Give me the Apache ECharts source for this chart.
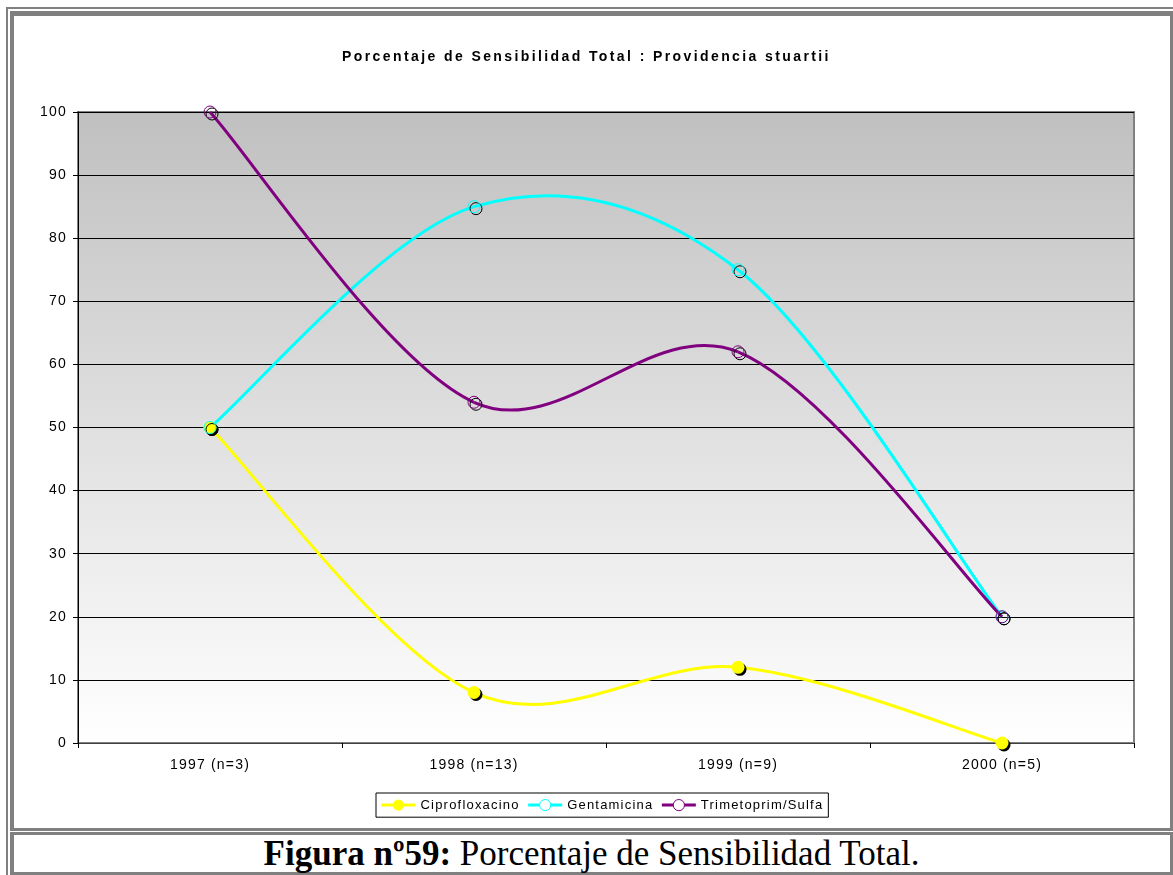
<!DOCTYPE html>
<html>
<head>
<meta charset="utf-8">
<script src="https://cdn.jsdelivr.net/npm/echarts@6/dist/echarts.min.js"></script>
<style>
  html, body { margin:0; padding:0; background:#fff; width:1173px; height:875px; overflow:hidden; }
  .frame { position:absolute; box-sizing:border-box; border-color:#808080; border-style:solid; }
  #outer { left:6px; top:7px; width:1167px; height:868px; border-width:2px 0 0 2px; }
  #chartbox { left:10px; top:11px; width:1163px; height:820px; border-width:5px 3px 3px 4px; }
  #capbox { left:10px; top:832px; width:1163px; height:43px; border-width:3px 3px 3px 4px; }
  #caption { position:absolute; left:10px; top:835px; width:1163px; height:37px; line-height:37px; text-align:center;
    font-family:"Liberation Serif","Times New Roman",serif; font-size:35px; color:#000; white-space:nowrap; }
  #chart { position:absolute; left:0; top:0; width:1173px; height:875px; }
</style>
</head>
<body>
<div class="frame" id="outer"></div>
<div class="frame" id="chartbox"></div>
<div class="frame" id="capbox"></div>
<div id="caption"><b>Figura nº59:</b> Porcentaje de Sensibilidad Total.</div>
<div id="chart"></div>
<script>
// ---- data ----
var titleText = 'Porcentaje de Sensibilidad Total : Providencia stuartii';
var categories = ['1997 (n=3)', '1998 (n=13)', '1999 (n=9)', '2000 (n=5)'];
var seriesNames = ['Ciprofloxacino', 'Gentamicina', 'Trimetoprim/Sulfa'];
var ciprofloxacino = [50, 8, 12, 0];
var gentamicina = [50, 85, 75, 20];
var trimetoprimSulfa = [100, 54, 62, 20];
var yTicks = [0, 10, 20, 30, 40, 50, 60, 70, 80, 90, 100];

// letter spacing to mimic Excel's spread-out text rendering
(function () {
  var P = window.CanvasRenderingContext2D && CanvasRenderingContext2D.prototype;
  if (!P || !('letterSpacing' in P)) return;
  var ft = P.fillText, mt = P.measureText;
  function sp(ctx) { return /bold/.test(ctx.font) ? '2.4px' : '1.2px'; }
  P.fillText = function (t, x, y, w) {
    this.letterSpacing = sp(this);
    return w === undefined ? ft.call(this, t, x, y) : ft.call(this, t, x, y, w);
  };
  P.measureText = function (t) {
    this.letterSpacing = sp(this);
    return mt.call(this, t);
  };
})();

var chart = echarts.init(document.getElementById('chart'), null, { renderer: 'canvas' });
var font = 'Arial, "Liberation Sans", sans-serif';
var colors = ['#ffff00', '#00ffff', '#800080'];
var allData = [ciprofloxacino, gentamicina, trimetoprimSulfa];

// smooth curve (Excel-like Catmull-Rom) drawn through the axis scales
function curveSeries(name, arr, color) {
  return {
    name: name,
    type: 'custom',
    data: arr.map(function (v, i) { return [i, v]; }),
    encode: { x: 0, y: 1 },
    z: 2,
    silent: true,
    renderItem: function (params, api) {
      var i = params.dataIndex, n = arr.length;
      if (i >= n - 1) return null;
      var p = function (k) { k = Math.max(0, Math.min(n - 1, k)); return api.coord([k, arr[k]]); };
      var p0 = p(i - 1), p1 = p(i), p2 = p(i + 1), p3 = p(i + 2);
      return {
        type: 'bezierCurve',
        shape: {
          x1: p1[0], y1: p1[1], x2: p2[0], y2: p2[1],
          cpx1: p1[0] + (p2[0] - p0[0]) / 6, cpy1: p1[1] + (p2[1] - p0[1]) / 6,
          cpx2: p2[0] - (p3[0] - p1[0]) / 6, cpy2: p2[1] - (p3[1] - p1[1]) / 6
        },
        style: { stroke: color, lineWidth: 3, fill: null }
      };
    }
  };
}

function markerSeries(name, arr, color, filled, size) {
  return {
    name: name,
    type: 'line',
    data: arr,
    z: 3,
    symbol: 'circle',
    symbolSize: size,
    lineStyle: { color: color, width: 3, opacity: 0 },
    itemStyle: {
      color: filled ? color : 'rgba(0,0,0,0)',
      borderColor: color,
      borderWidth: filled ? 0 : 1,
      shadowColor: '#000',
      shadowBlur: 0,
      shadowOffsetX: 2,
      shadowOffsetY: 2
    },
    emphasis: { disabled: true }
  };
}

var series = [];
seriesNames.forEach(function (nm, k) { series.push(markerSeries(nm, allData[k], colors[k], k === 0, k === 0 ? 13 : 12)); });
seriesNames.forEach(function (nm, k) { var s = curveSeries(nm, allData[k], colors[k]); series.push(s); });

chart.setOption({
  animation: false,
  backgroundColor: 'transparent',
  title: {
    text: titleText,
    left: 'center',
    top: 44,
    textStyle: { fontFamily: font, fontSize: 14, fontWeight: 'bold', color: '#000' }
  },
  legend: {
    left: 376,
    top: 793,
    padding: [5, 5, 5, 4],
    itemGap: 7,
    itemWidth: 34,
    itemHeight: 14,
    borderColor: '#000',
    borderWidth: 1,
    backgroundColor: '#fff',
    borderRadius: 0,
    textStyle: { fontFamily: font, fontSize: 13, color: '#000' },
    data: seriesNames.map(function (nm, k) {
      return {
        name: nm,
        lineStyle: { color: colors[k], width: 3, opacity: 1 },
        itemStyle: {
          color: k === 0 ? colors[k] : '#fff',
          borderColor: colors[k],
          borderWidth: k === 0 ? 0 : 1,
          shadowBlur: 0, shadowOffsetX: 0, shadowOffsetY: 0
        }
      };
    })
  },
  grid: {
    left: 78, top: 112, width: 1056, height: 631,
    show: true,
    borderColor: '#808080',
    borderWidth: 2,
    backgroundColor: new echarts.graphic.LinearGradient(0, 0, 0, 1, [
      { offset: 0, color: '#c0c0c0' },
      { offset: 1, color: '#ffffff' }
    ])
  },
  xAxis: {
    type: 'category',
    data: categories,
    boundaryGap: true,
    axisLine: { lineStyle: { color: '#404040', width: 1 } },
    axisTick: { show: true, length: 5, lineStyle: { color: '#000' } },
    axisLabel: { color: '#000', fontFamily: font, fontSize: 14, margin: 15 },
    splitLine: { show: false }
  },
  yAxis: {
    type: 'value',
    min: yTicks[0],
    max: yTicks[yTicks.length - 1],
    interval: 10,
    axisLine: { show: true, lineStyle: { color: '#000', width: 1 } },
    axisTick: { show: true, length: 5, lineStyle: { color: '#000' } },
    axisLabel: { color: '#000', fontFamily: font, fontSize: 14, margin: 11 },
    splitLine: { show: true, lineStyle: { color: '#000', width: 1 } }
  },
  series: series
});
</script>
</body>
</html>
